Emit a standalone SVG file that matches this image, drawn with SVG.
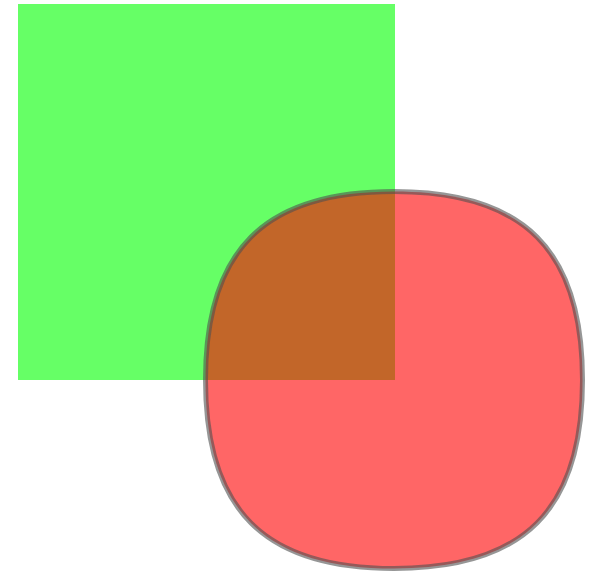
<svg xmlns="http://www.w3.org/2000/svg" width="592" height="573" viewBox="0 0 592 573">
<style>
.sq{fill:#00ff00;fill-opacity:0.6}
.blob{fill:#ff0000;fill-opacity:0.6;stroke:#505050;stroke-opacity:0.6;stroke-width:5}
</style>
<rect width="592" height="573" fill="#fff"/>
<g id="green-square"><rect class="sq" x="18" y="4" width="377" height="376"/></g>
<g id="red-shape"><path class="blob" d="M 394 191.5 C 524 191.5 582.5 250 582.5 380 C 582.5 510 524 568.5 394 568.5 C 264 568.5 205.5 510 205.5 380 C 205.5 250 264 191.5 394 191.5 Z"/></g>
</svg>
